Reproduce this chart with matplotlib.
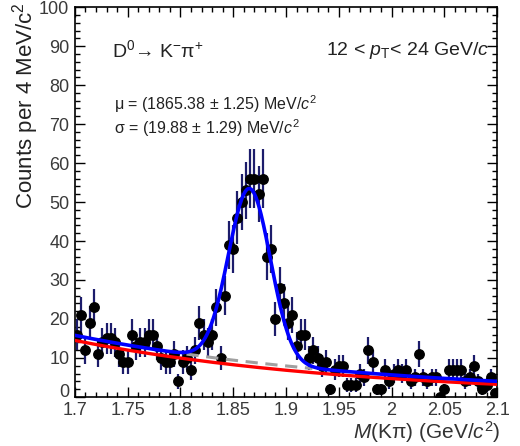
import numpy as np
import matplotlib
matplotlib.use("Agg")
import matplotlib.pyplot as plt
from matplotlib.ticker import MultipleLocator, FuncFormatter

plt.rcParams['font.family'] = ['Liberation Sans', 'DejaVu Sans']
plt.rcParams['mathtext.fontset'] = 'custom'
plt.rcParams['mathtext.rm'] = 'Liberation Sans'
plt.rcParams['mathtext.it'] = 'Liberation Sans:italic'
plt.rcParams['mathtext.bf'] = 'Liberation Sans:bold'

# binning: 4 MeV bins between 1.7 and 2.1 GeV/c^2
mass_lo, mass_hi, n_bins = 1.7, 2.1, 100

counts = [
    16, 21, 12, 19, 23, 11, 14, 15, 15, 14,
    11, 9, 9, 16, 13, 14, 14, 16, 16, 13,
    10, 9, 9, 11, 4, 9, 10, 7, 12, 19,
    16, 14, 16, 23, 10, 26, 39, 38, 46, 50,
    53, 56, 56, 52, 56, 36, 38, 20, 28, 24,
    19, 21, 13, 16, 16, 10, 12, 10, 8, 9,
    2, 7, 8, 8, 3, 3, 3, 6, 5, 12,
    9, 2, 2, 7, 4, 6, 7, 6, 7, 4,
    5, 11, 5, 4, 5, 5, 0, 2, 7, 7,
    7, 7, 4, 5, 8, 4, 2, 3, 5, 1,
]

# fit results (GeV/c^2)
mu, sigma = 1.86538, 0.01988
sig_amp = 44.5
bkg_norm, bkg_slope = 15.8, 3.43      # background of the total fit
resid_norm, resid_slope = 14.5, 3.75  # separate background curve


def expo(x, norm, slope):
    return norm * np.exp(-slope * (x - mass_lo))


def gaus(x):
    return sig_amp * np.exp(-0.5 * ((x - mu) / sigma) ** 2)


edges = np.linspace(mass_lo, mass_hi, n_bins + 1)
centers = 0.5 * (edges[1:] + edges[:-1])
y = np.array(counts, dtype=float)
yerr = np.sqrt(y)

fig = plt.figure(figsize=(5.2, 4.46), dpi=100)
ax = fig.add_axes([0.144, 0.110, 0.812, 0.874])

ax.errorbar(centers, y, yerr=yerr, fmt='o', color='black', ms=6.8,
            ecolor='#1c1c6b', elinewidth=1.6, capsize=0, zorder=2)

xf = np.linspace(mass_lo, mass_hi, 500)
ax.plot(xf, expo(xf, resid_norm, resid_slope), color='#ff0000', lw=2.4, zorder=3)
xs = np.linspace(mu - 3 * sigma, mu + 3 * sigma, 200)
ax.plot(xs, expo(xs, bkg_norm, bkg_slope), color='#a0a0a0', lw=2.2,
        ls=(0, (4, 2.5)), zorder=3)
ax.plot(xf, expo(xf, bkg_norm, bkg_slope) + gaus(xf), color='#0000ff', lw=2.6, zorder=4)

ax.set_xlim(mass_lo, mass_hi)
ax.set_ylim(0, 100)
ax.xaxis.set_major_locator(MultipleLocator(0.05))
ax.xaxis.set_minor_locator(MultipleLocator(0.01))
ax.yaxis.set_major_locator(MultipleLocator(10))
ax.yaxis.set_minor_locator(MultipleLocator(2))
ax.xaxis.set_major_formatter(FuncFormatter(lambda v, p: '%g' % round(v, 3)))
# the "0" is drawn on its own below, lifted off the corner
ax.yaxis.set_major_formatter(FuncFormatter(lambda v, p: '' if v == 0 else '%g' % v))
ax.tick_params(which='both', direction='in', top=True, right=True,
               labelsize=13, labelcolor='#3a3a3a', width=1.0)
ax.tick_params(which='major', length=7)
ax.tick_params(which='minor', length=3.5)
ax.tick_params(axis='x', pad=4)
ax.tick_params(axis='y', pad=4)
for s in ax.spines.values():
    s.set_linewidth(1.2)

ax.annotate('0', xy=(0, 0), xycoords='axes fraction', xytext=(-4, -3),
            textcoords='offset points', ha='right', va='bottom',
            fontsize=13, color='#3a3a3a')

fig.text(0.05, 0.994, r'Counts per 4 MeV/c$^{2}$', rotation=90,
         ha='center', va='top', fontsize=16, color='#222222')
fig.text(0.962, 0.032, r'$M$(Kπ) (GeV/$c^{2}$)', ha='right', va='center',
         fontsize=15, color='#333333')

ax.text(0.088, 0.89, r'D$^{0}$→ K$^{-}$π$^{+}$', transform=ax.transAxes,
        fontsize=14, color='#222222', va='center', ha='left')
ax.text(0.983, 0.89, r'12 < $p_{\mathrm{T}}$< 24 GeV/$c$', transform=ax.transAxes,
        fontsize=14, color='#222222', va='center', ha='right')
ax.text(0.092, 0.751, r'μ = (1865.38 ± 1.25) MeV/$c^{2}$', transform=ax.transAxes,
        fontsize=11.5, color='#222222', va='center', ha='left')
ax.text(0.092, 0.69, r'σ = (19.88 ± 1.29) MeV/$c^{2}$', transform=ax.transAxes,
        fontsize=11.5, color='#222222', va='center', ha='left')

fig.savefig('out.png', dpi=100)
